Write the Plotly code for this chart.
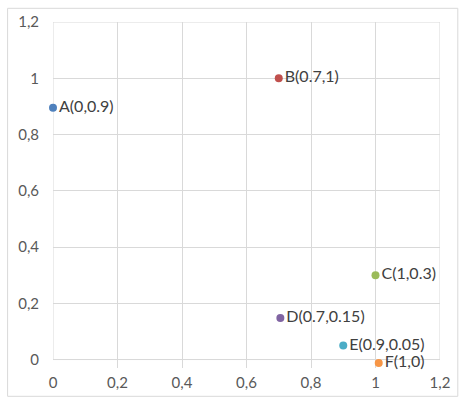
import plotly.graph_objects as go

names = ["A(0,0.9)", "B(0.7,1)", "C(1,0.3)", "D(0.7,0.15)", "E(0.9,0.05)", "F(1,0)"]
x_vals = [0.0, 0.7, 1.0, 0.705, 0.9, 1.01]
y_vals = [0.895, 1.0, 0.3, 0.148, 0.05, -0.012]
colors = ["#4F81BD", "#C0504D", "#9BBB59", "#8064A2", "#4BACC6", "#F79646"]
tick_vals = [0, 0.2, 0.4, 0.6, 0.8, 1.0, 1.2]
tick_text = ["0", "0,2", "0,4", "0,6", "0,8", "1", "1,2"]

fig = go.Figure()
for n, xv, yv, c in zip(names, x_vals, y_vals, colors):
    fig.add_trace(go.Scatter(
        x=[xv], y=[yv], mode="markers+text", text=[n],
        textposition="middle right",
        marker=dict(size=8, color=c),
        textfont=dict(family="Lato", size=16, color="#404040"),
        cliponaxis=False, showlegend=False, hoverinfo="skip",
    ))

grid = "#D9D9D9"
tickfont = dict(family="Lato", size=15, color="#595959")
fig.update_xaxes(
    range=[0, 1.2], tickvals=tick_vals, ticktext=tick_text,
    showgrid=True, gridcolor=grid, gridwidth=1, zeroline=False, showline=False,
    tickfont=tickfont, ticks="outside", ticklen=1, tickcolor="rgba(0,0,0,0)",
    fixedrange=True,
)
fig.update_yaxes(
    range=[-0.03, 1.2], tickvals=tick_vals, ticktext=tick_text,
    showgrid=True, gridcolor=grid, gridwidth=1, zeroline=False, showline=False,
    tickfont=tickfont, ticks="outside", ticklen=10, tickcolor="rgba(0,0,0,0)",
    fixedrange=True,
)

fig.add_shape(type="rect", xref="paper", yref="paper",
              x0=-0.1173, x1=1.046, y0=-0.0818, y1=1.0396,
              line=dict(color=grid, width=1), fillcolor="rgba(0,0,0,0)", layer="below")
fig.add_shape(type="line", xref="x", yref="y", x0=1.2, x1=1.2, y0=0, y1=1.2,
              line=dict(color=grid, width=1), layer="below")
fig.add_shape(type="line", xref="x", yref="y", x0=0, x1=0, y0=0, y1=1.2,
              line=dict(color=grid, width=1), layer="below")
fig.add_shape(type="line", xref="x", yref="y", x0=0, x1=1.2, y0=1.2, y1=1.2,
              line=dict(color=grid, width=1), layer="below")
fig.add_shape(type="line", xref="x", yref="y", x0=0, x1=1.2, y0=0, y1=0,
              line=dict(color=grid, width=1), layer="below")

fig.update_layout(
    width=462, height=403,
    margin=dict(l=53, r=17, t=19, b=30),
    paper_bgcolor="white", plot_bgcolor="white",
)
fig.write_html("out.html")
